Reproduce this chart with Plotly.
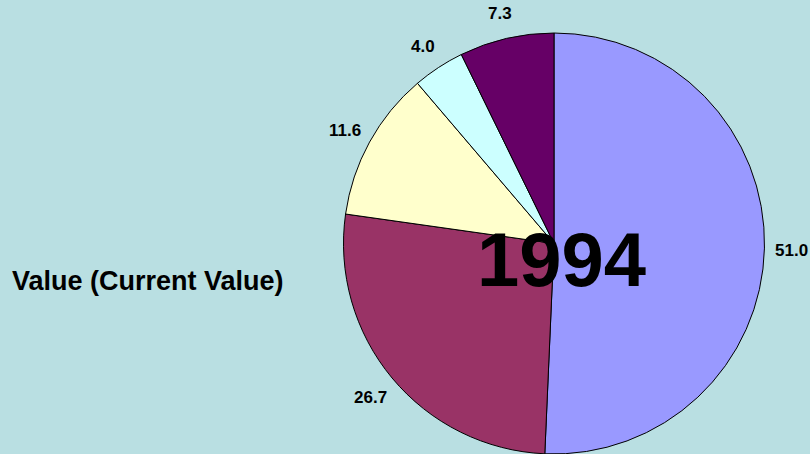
import math
import plotly.graph_objects as go

categories = ["A", "B", "C", "D", "E"]
values = [51.0, 26.7, 11.6, 4.0, 7.3]
colors = ["#9999FF", "#993366", "#FFFFCC", "#CCFFFF", "#660066"]
year_label = "1994"
side_title = "Value (Current Value)"

W, H = 810, 454
FONT = "Liberation Sans, Arial, sans-serif"

# pie placement (pixels)
cx, cy, R = 554, 244, 211
dom_x = [(cx - R) / W, (cx + R) / W]
dom_y = [0, (H - (cy - R)) / H]

fig = go.Figure(go.Pie(
    labels=categories,
    values=values,
    sort=False,
    direction="clockwise",
    rotation=0,
    marker=dict(colors=colors, line=dict(color="black", width=1)),
    textinfo="none",
    domain=dict(x=dom_x, y=dom_y),
    showlegend=False,
    hoverinfo="skip",
))

# data labels placed outside along each slice's mid-angle
total = sum(values)
label_r = R + 27
cum = 0.0
for v in values:
    mid = (cum + v / 2) / total * 2 * math.pi
    cum += v
    lx = cx + label_r * math.sin(mid)
    ly = cy - label_r * math.cos(mid)
    fig.add_annotation(x=lx / W, y=1 - (ly + 1) / H, xref="paper", yref="paper",
                       text=f"<b>{v:.1f}</b>", showarrow=False,
                       font=dict(family=FONT, size=17, color="black"),
                       xanchor="center", yanchor="middle")

fig.add_annotation(x=561 / W, y=1 - 259 / H, xref="paper", yref="paper",
                   text=f"<b>{year_label}</b>", showarrow=False,
                   font=dict(family=FONT, size=76, color="black"),
                   xanchor="center", yanchor="middle")
fig.add_annotation(x=10 / W, y=1 - 281 / H, xref="paper", yref="paper",
                   text=f"<b>{side_title}</b>", showarrow=False,
                   font=dict(family=FONT, size=27, color="black"),
                   xanchor="left", yanchor="middle")

fig.update_layout(
    width=W, height=H,
    margin=dict(l=0, r=0, t=0, b=0),
    paper_bgcolor="#B9DFE2",
    plot_bgcolor="#B9DFE2",
    font=dict(family=FONT),
)
fig.write_html("out.html", config={"displayModeBar": False},
               post_script="document.body.style.margin='0';document.body.style.overflow='hidden';")
